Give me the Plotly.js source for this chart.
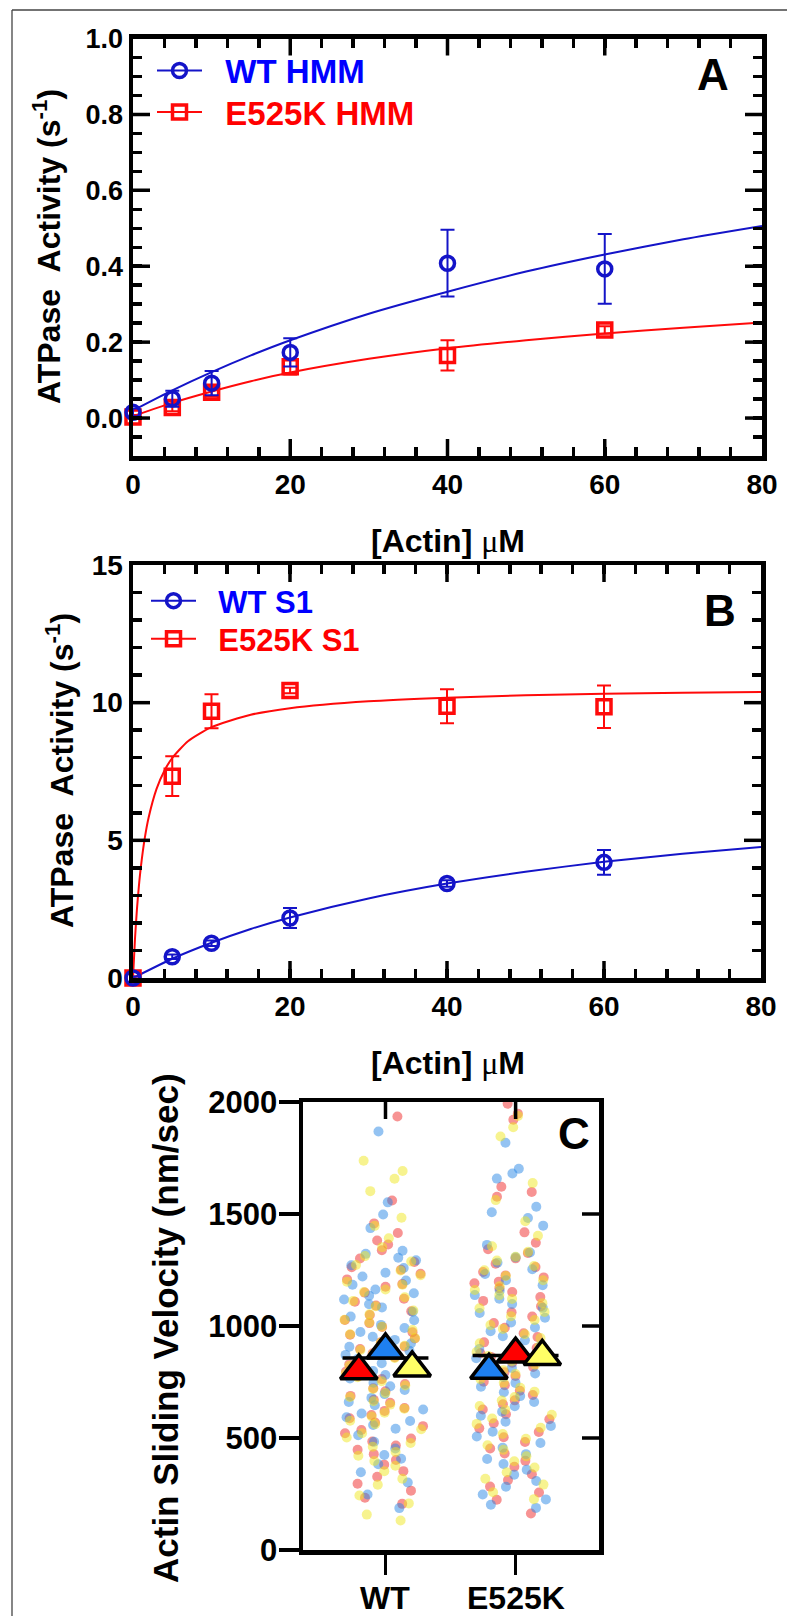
<!DOCTYPE html>
<html><head><meta charset="utf-8">
<script src="https://cdn.plot.ly/plotly-3.0.1.min.js"></script>
<style>body{margin:0;background:#fff}#chart{width:787px;height:1616px}</style>
</head><body><div id="chart"></div>
<script>
// ---------- Panel A: HMM ATPase ----------
const actinA = [0, 5, 10, 20, 40, 60];
const wtHMM = [0.015, 0.051, 0.092, 0.173, 0.408, 0.393];
const wtHMMErr = [0.01, 0.021, 0.032, 0.037, 0.088, 0.092];
const e525kHMM = [0.003, 0.028, 0.068, 0.135, 0.165, 0.232];
const e525kHMMErr = [0.005, 0.01, 0.012, 0.02, 0.04, 0.01];
const fitXA = [0, 5, 10, 15, 20, 30, 40, 50, 60, 70, 80];
const wtHMMFit = [0.02, 0.073, 0.121, 0.165, 0.205, 0.275, 0.333, 0.386, 0.431, 0.471, 0.506];
const e525kHMMFit = [0.005, 0.040, 0.070, 0.097, 0.120, 0.156, 0.184, 0.205, 0.223, 0.238, 0.252];

// ---------- Panel B: S1 ATPase ----------
const actinB = [0, 5, 10, 20, 40, 60];
const wtS1 = [0, 0.77, 1.26, 2.18, 3.43, 4.2];
const wtS1Err = [0.05, 0.08, 0.1, 0.36, 0.12, 0.45];
const e525kS1 = [0, 7.33, 9.69, 10.44, 9.87, 9.85];
const e525kS1Err = [0.05, 0.72, 0.62, 0.1, 0.62, 0.77];
const fitXBwt = [0, 5, 10, 15, 20, 30, 40, 50, 60, 70, 80];
const wtS1Fit = [0, 0.70, 1.28, 1.78, 2.20, 2.89, 3.43, 3.86, 4.22, 4.51, 4.76];
const fitXBmut = [0, 0.25, 0.5, 0.75, 1, 1.5, 2, 3, 4, 5, 7, 10, 15, 20, 30, 40, 50, 60, 70, 80];
const e525kS1Fit = [0, 1.41, 2.49, 3.34, 4.03, 5.08, 5.84, 6.87, 7.53, 7.99, 8.6, 9.11, 9.56, 9.8, 10.05, 10.18, 10.27, 10.32, 10.36, 10.39];

// ---------- Panel C: sliding velocity ----------
const groupsC = ['WT', 'E525K'];
const wtRed = [1935,1560,1458,1415,1382,1364,1338,1301,1286,1262,1251,1233,1208,1187,1175,1149,1122,1108,1091,1066,1049,1027,1013,996,972,961,944,928,909,897,878,861,843,829,808,797,776,763,741,722,709,688,671,657,634,621,603,588,569,553,536,521,498,484,466,447,428,402,381,352,327,296,265,233,206];
const wtBlue = [1868,1552,1498,1437,1336,1322,1305,1293,1271,1259,1238,1221,1203,1184,1163,1146,1135,1118,1097,1083,1064,1042,1026,1005,991,973,952,938,922,907,889,871,853,834,816,799,781,766,747,731,714,696,679,661,646,627,609,593,576,558,541,512,483,453,424,407,383,347,301,248,187];
const wtYellow = [1738,1692,1657,1602,1483,1447,1392,1352,1312,1288,1272,1248,1227,1198,1184,1163,1152,1128,1112,1088,1069,1052,1028,1016,997,982,963,946,926,912,893,874,857,841,823,806,787,771,753,734,719,701,683,664,649,631,613,596,577,562,539,521,502,478,461,438,421,397,376,352,318,291,243,208,158,132];
const mutRed = [1992,1948,1921,1622,1598,1577,1418,1372,1343,1326,1302,1278,1263,1241,1226,1217,1198,1191,1168,1152,1129,1112,1088,1061,1042,1013,992,968,951,927,902,878,862,836,817,793,777,751,736,711,692,668,651,627,606,584,566,543,527,503,482,453,431,398,372,338,312,283,257,224,163];
const mutBlue = [1818,1702,1681,1658,1532,1508,1482,1448,1362,1328,1307,1282,1253,1232,1204,1182,1157,1138,1122,1098,1081,1058,1037,1016,993,977,954,936,914,897,873,856,833,813,788,772,746,729,704,687,661,642,617,599,573,554,528,507,478,457,428,406,384,358,336,308,282,248,226,202,188];
const mutYellow = [1938,1887,1846,1638,1562,1468,1403,1356,1331,1309,1292,1268,1249,1223,1204,1178,1161,1138,1121,1102,1079,1063,1044,1027,1004,987,963,946,923,907,884,866,843,827,803,786,763,747,724,707,683,667,643,626,604,587,563,546,518,497,468,447,418,396,368,347,318,292,258,227];
const groupMeans = [857, 868];
// replicate means (triangles) in left-to-right order, with their colours
const wtRepMeans = [800, 893, 813];
const wtRepColors = ['red', 'blue', 'yellow'];
const mutRepMeans = [802, 875, 864];
const mutRepColors = ['blue', 'red', 'yellow'];

// ---------- styling ----------
const W = 787, H = 1616;
const X = v => v / W, Y = v => 1 - v / H;
const FONT = 'Liberation Sans, Arial, Helvetica, sans-serif';
const BLUE = '#1414c8', RED = '#ff0a0a';
const dotCol = {red: '#f02828', blue: '#2a88e6', yellow: '#f0e820'};
const triCol = {red: '#ff0000', blue: '#1e80f0', yellow: '#ffff66'};
const repOffset = [-0.205, 0, 0.205];
const meanHalf = 0.33;
const domA = {x: [X(133), X(762)], y: [Y(456), Y(38.5)]};
const domB = {x: [X(133), X(761)], y: [Y(978), Y(565)]};
const domC = {x: [X(303), X(599)], y: [Y(1550), Y(1102)]};
const rangeAx = [0, 80], rangeAy = [-0.1, 1.0], rangeBx = [0, 80], rangeBy = [0, 15];
const rangeC = [-0.634, 1.641], rangeCy = [0, 2000];

const traces = [];
function dataTrace(x, y, err, sym, col, xa, ya) {
  return {x, y, xaxis: xa, yaxis: ya, type: 'scatter', mode: 'markers', showlegend: false, cliponaxis: false, hoverinfo: 'skip',
    marker: {symbol: sym, size: 14, color: col, line: {width: 3.5, color: col}},
    error_y: {type: 'data', array: err, visible: true, color: col, thickness: 2, width: 7}};
}
function fitTrace(x, y, col, xa, ya) {
  return {x, y, xaxis: xa, yaxis: ya, type: 'scatter', mode: 'lines', showlegend: false, hoverinfo: 'skip',
    line: {color: col, width: 2, shape: 'spline', smoothing: 0.6}};
}
function legTrace(name, sym, col, xa, ya, leg) {
  return {x: [null], y: [null], xaxis: xa, yaxis: ya, type: 'scatter', mode: 'lines+markers', name, legend: leg,
    marker: {symbol: sym, size: 14, color: col, line: {width: 3.5, color: col}}, line: {color: col, width: 2}};
}
const SP = '&nbsp;&nbsp;';
// A
traces.push(fitTrace(fitXA, wtHMMFit, BLUE, 'x', 'y'));
traces.push(fitTrace(fitXA, e525kHMMFit, RED, 'x', 'y'));
traces.push(dataTrace(actinA, e525kHMM, e525kHMMErr, 'square-open', RED, 'x', 'y'));
traces.push(dataTrace(actinA, wtHMM, wtHMMErr, 'circle-open', BLUE, 'x', 'y'));
traces.push(legTrace(SP + '<span style="color:#0000ff">WT HMM</span>', 'circle-open', BLUE, 'x', 'y', 'legend'));
traces.push(legTrace(SP + '<span style="color:#ff0000">E525K HMM</span>', 'square-open', RED, 'x', 'y', 'legend3'));
// B
traces.push(fitTrace(fitXBwt, wtS1Fit, BLUE, 'x2', 'y2'));
traces.push(fitTrace(fitXBmut, e525kS1Fit, RED, 'x2', 'y2'));
traces.push(dataTrace(actinB, e525kS1, e525kS1Err, 'square-open', RED, 'x2', 'y2'));
traces.push(dataTrace(actinB, wtS1, wtS1Err, 'circle-open', BLUE, 'x2', 'y2'));
traces.push(legTrace(SP + '<span style="color:#0000ff">WT S1</span>', 'circle-open', BLUE, 'x2', 'y2', 'legend2'));
traces.push(legTrace(SP + '<span style="color:#ff0000">E525K S1</span>', 'square-open', RED, 'x2', 'y2', 'legend4'));
// C dots
const dotSets = [[0, wtRed, 'red'], [0, wtBlue, 'blue'], [0, wtYellow, 'yellow'], [1, mutRed, 'red'], [1, mutBlue, 'blue'], [1, mutYellow, 'yellow']];
dotSets.forEach(([g, vals, c]) => traces.push({
  type: 'box', y: vals, x0: g, xaxis: 'x3', yaxis: 'y3', width: 0.66, boxpoints: 'all', jitter: 1, pointpos: 0,
  fillcolor: 'rgba(0,0,0,0)', line: {color: 'rgba(0,0,0,0)', width: 0}, whiskerwidth: 0,
  marker: {color: dotCol[c], size: 10, opacity: 0.5, line: {width: 0}}, showlegend: false, hoverinfo: 'skip'
}));
// C mean lines
groupMeans.forEach((m, g) => traces.push({
  x: [g - meanHalf, g + meanHalf], y: [m, m], xaxis: 'x3', yaxis: 'y3', type: 'scatter', mode: 'lines',
  line: {color: '#000', width: 3.5}, showlegend: false, hoverinfo: 'skip'
}));
// C triangles (centre first, then sides)
[[0, wtRepMeans, wtRepColors], [1, mutRepMeans, mutRepColors]].forEach(([g, means, cols]) => {
  [1, 0, 2].forEach(i => traces.push({
    x: [g + repOffset[i]], y: [means[i]], xaxis: 'x3', yaxis: 'y3', type: 'scatter', mode: 'markers', cliponaxis: false,
    marker: {symbol: 'triangle-up', size: 32, color: triCol[cols[i]], line: {color: '#000', width: 3.5}},
    showlegend: false, hoverinfo: 'skip'
  }));
});

function tf(size) { return {family: FONT, size, color: '#000', weight: 'bold'}; }
// tick grid of an axis: every small step, labelled every big step
function tickGrid(range, minor, major, digits) {
  const vals = [], text = [], majors = [];
  const n = Math.round((range[1] - range[0]) / minor);
  for (let i = 0; i <= n; i++) {
    const v = +(range[0] + i * minor).toFixed(6);
    const r = v / major, isMajor = Math.abs(r - Math.round(r)) < 1e-6;
    if (v === range[0] && !isMajor) continue;
    vals.push(v);
    text.push(isMajor ? v.toFixed(digits) : '');
    if (isMajor && v !== range[0] && v !== range[1]) majors.push(v);
  }
  return {vals, text, majors};
}
const gAx = tickGrid(rangeAx, 4, 20, 0), gAy = tickGrid(rangeAy, 0.05, 0.2, 1);
const gBx = tickGrid(rangeBx, 4, 20, 0), gBy = tickGrid(rangeBy, 1, 5, 0);
function kinAxis(dom, range, grid, fsize, anchor) {
  return {domain: dom, range, anchor, tickmode: 'array', tickvals: grid.vals, ticktext: grid.text,
    ticks: 'inside', ticklen: 9, tickwidth: 3.5, tickcolor: '#000',
    showline: true, linewidth: 4.5, linecolor: '#000', mirror: 'allticks', showgrid: false, zeroline: false,
    tickfont: tf(fsize), ticklabelstandoff: 0, fixedrange: true};
}
// longer inward marks at the labelled ticks (pixel length, placed by the axes' scales)
function innerTicks(xref, yref, xr, yr, xvals, yvals, len) {
  const s = [], ln = {color: '#000', width: 3.5};
  xvals.forEach(v => {
    if (len.b) s.push({type: 'line', xref, yref, x0: v, x1: v, ysizemode: 'pixel', yanchor: yr[0], y0: 0, y1: len.b, line: ln});
    if (len.t) s.push({type: 'line', xref, yref, x0: v, x1: v, ysizemode: 'pixel', yanchor: yr[1], y0: 0, y1: -len.t, line: ln});
  });
  yvals.forEach(v => {
    if (len.l) s.push({type: 'line', xref, yref, y0: v, y1: v, xsizemode: 'pixel', xanchor: xr[0], x0: 0, x1: len.l, line: ln});
    if (len.r) s.push({type: 'line', xref, yref, y0: v, y1: v, xsizemode: 'pixel', xanchor: xr[1], x0: 0, x1: -len.r, line: ln});
  });
  return s;
}
const all4 = {b: 17, t: 17, l: 17, r: 17};
const tickShapes = [].concat(
  innerTicks('x', 'y', rangeAx, rangeAy, gAx.majors, gAy.majors, all4),
  innerTicks('x2', 'y2', rangeBx, rangeBy, gBx.majors, gBy.majors, all4),
  innerTicks('x3', 'y3', rangeC, rangeCy, [0, 1], [500, 1000, 1500], {t: 17, r: 17})
);

const xTitle = '[Actin] <span style="font-family:Liberation Serif,serif;font-weight:normal">μ</span>M';
const yTitleK = 'ATPase  Activity (s<sup>-1</sup>)';
function legendAt(x, y, size) {
  return {x: X(x), y: Y(y), xanchor: 'left', yanchor: 'middle', font: tf(size), bgcolor: 'rgba(0,0,0,0)', itemwidth: 45, borderwidth: 0};
}

const layout = {
  width: W, height: H, margin: {l: 0, r: 0, t: 0, b: 0}, paper_bgcolor: '#fff', plot_bgcolor: 'rgba(0,0,0,0)',
  font: {family: FONT, color: '#000'}, boxmode: 'overlay',
  xaxis: kinAxis(domA.x, rangeAx, gAx, 28, 'y'),
  yaxis: kinAxis(domA.y, rangeAy, gAy, 27, 'x'),
  xaxis2: kinAxis(domB.x, rangeBx, gBx, 28, 'y2'),
  yaxis2: kinAxis(domB.y, rangeBy, gBy, 28, 'x2'),
  xaxis3: {domain: domC.x, range: rangeC, anchor: 'y3', tickvals: [0, 1], showticklabels: false,
    ticks: 'outside', ticklen: 20, tickwidth: 3.5, tickcolor: '#000', showline: true, linewidth: 4.5, linecolor: '#000',
    mirror: true, showgrid: false, zeroline: false, fixedrange: true},
  yaxis3: {domain: domC.y, range: rangeCy, anchor: 'x3', tick0: 0, dtick: 500,
    ticks: 'outside', ticklen: 20, tickwidth: 3.5, tickcolor: '#000', showline: true, linewidth: 4.5, linecolor: '#000',
    mirror: true, showgrid: false, zeroline: false, tickfont: tf(31), ticklabelstandoff: -5, fixedrange: true},
  legend: legendAt(152, 70.6, 33),
  legend3: legendAt(152, 112, 33),
  legend2: legendAt(146, 601, 31),
  legend4: legendAt(146, 639, 31),
  annotations: [
    {text: yTitleK, x: X(47), y: Y(247), xref: 'paper', yref: 'paper', textangle: -90, showarrow: false, xanchor: 'center', yanchor: 'middle', font: tf(32)},
    {text: yTitleK, x: X(60), y: Y(771), xref: 'paper', yref: 'paper', textangle: -90, showarrow: false, xanchor: 'center', yanchor: 'middle', font: tf(32)},
    {text: 'Actin Sliding Velocity (nm/sec)', x: X(165), y: Y(1328), xref: 'paper', yref: 'paper', textangle: -90, showarrow: false, xanchor: 'center', yanchor: 'middle', font: tf(35)},
    {text: xTitle, x: X(448), y: Y(541), xref: 'paper', yref: 'paper', showarrow: false, xanchor: 'center', yanchor: 'middle', font: tf(32)},
    {text: xTitle, x: X(448), y: Y(1063), xref: 'paper', yref: 'paper', showarrow: false, xanchor: 'center', yanchor: 'middle', font: tf(32)},
    {text: groupsC[0], x: 0, y: Y(1598), xref: 'x3', yref: 'paper', showarrow: false, xanchor: 'center', yanchor: 'middle', font: tf(32)},
    {text: groupsC[1], x: 1, y: Y(1598), xref: 'x3', yref: 'paper', showarrow: false, xanchor: 'center', yanchor: 'middle', font: tf(32)},
    {text: 'A', x: X(713), y: Y(74), xref: 'paper', yref: 'paper', showarrow: false, xanchor: 'center', yanchor: 'middle', font: tf(44)},
    {text: 'B', x: X(720), y: Y(610), xref: 'paper', yref: 'paper', showarrow: false, xanchor: 'center', yanchor: 'middle', font: tf(44)},
    {text: 'C', x: X(574), y: Y(1133), xref: 'paper', yref: 'paper', showarrow: false, xanchor: 'center', yanchor: 'middle', font: tf(44)}
  ],
  shapes: [
    {type: 'line', xref: 'paper', yref: 'paper', x0: X(12), x1: 1, y0: Y(10), y1: Y(10), line: {color: '#444', width: 1.3}},
    {type: 'line', xref: 'paper', yref: 'paper', x0: X(12), x1: X(12), y0: Y(10), y1: 0, line: {color: '#444', width: 1.3}}
  ].concat(tickShapes)
};
Plotly.newPlot('chart', traces, layout, {displayModeBar: false, staticPlot: true});
</script></body></html>
